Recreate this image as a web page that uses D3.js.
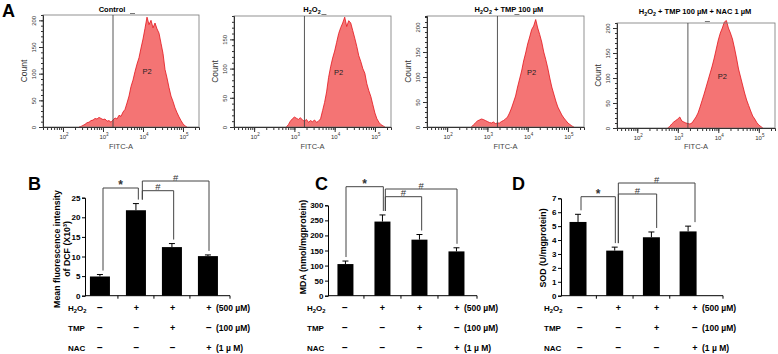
<!DOCTYPE html>
<html>
<head>
<meta charset="utf-8">
<title>ROS, MDA and SOD</title>
<script src="https://d3js.org/d3.v7.min.js"></script>
<style>
  body { margin: 0; background: #fff; }
  svg { font-family: Arial, "Liberation Sans", sans-serif; display: block; }
</style>
</head>
<body>
<svg id="fig" width="778" height="354"></svg>
<script>
// ---- data ----
var histTitles = ["Control", "H2O2", "H2O2 + TMP 100 µM", "H2O2 + TMP 100 µM + NAC 1 µM"];
var histStep = 0.05;                       // bin width in log10(FITC-A)
var histStart = [2.40, 2.80, 2.60, 2.75];  // log10 of first bin in each panel
var histControl = [0,1,3,5,8,9,12,13,16,15,18,16,14,15,11,12,9,13,17,15,22,20,28,33,45,58,76,88,104,118,130,148,165,185,206,192,200,186,195,184,176,157,138,108,92,74,58,48,36,27,19,12,6,2,0];
var histH2O2 = [0,4,10,14,17,15,13,16,12,10,13,8,11,9,12,8,10,14,28,42,60,85,103,118,130,145,160,170,178,188,172,182,178,165,152,138,122,112,100,92,74,62,52,38,24,14,8,4,2,0];
var histTMP = [0,4,8,12,14,16,15,13,11,9,8,10,7,8,8,11,13,16,20,28,38,50,62,80,96,112,132,148,166,180,195,202,215,198,185,170,150,135,118,98,80,66,52,40,32,24,18,13,8,5,2,0];
var histNAC = [0,3,8,12,15,18,22,14,12,10,9,8,10,16,22,30,42,55,68,82,96,110,124,140,158,176,190,200,212,215,200,190,178,160,140,118,102,86,70,56,45,34,24,18,11,6,3,0];
var histYMax = [210, 190, 222, 210];
var gateLog = 3.25;

var groups = ["g1", "g2", "g3", "g4"];
var dcfMean = [4.9, 21.8, 12.4, 10.1];
var dcfErr = [0.5, 1.7, 0.9, 0.3];
var mdaMean = [105, 246, 186, 147];
var mdaErr = [10, 22, 17, 12];
var sodMean = [5.3, 3.24, 4.2, 4.62];
var sodErr = [0.55, 0.25, 0.38, 0.38];

var rowLabels = ["H2O2", "TMP", "NAC"];
var rowH2O2 = ["−", "+", "+", "+"];
var rowTMP = ["−", "−", "+", "−"];
var rowNAC = ["−", "−", "−", "+"];
var rowDose = ["(500 µM)", "(100 µM)", "(1 µ M)"];

var svg = d3.select("#fig");

// writes text with chemical subscripts (digit right after a letter)
function chemText(t, str, sz) {
  var parts = [];
  for (var i = 0; i < str.length; i++) {
    var ch = str[i];
    var sub = /[0-9]/.test(ch) && i > 0 && /[A-Za-z]/.test(str[i - 1]);
    var last = parts[parts.length - 1];
    if (last && last.sub === sub) last.t += ch; else parts.push({t: ch, sub: sub});
  }
  var shift = 0;
  parts.forEach(function(p) {
    var s = p.sub ? sz * 0.3 : 0;
    t.append("tspan").attr("dy", s - shift)
      .style("font-size", p.sub ? (sz * 0.72) + "px" : null)
      .text(p.t);
    shift = s;
  });
}

function letter(x, y, s) {
  svg.append("text").attr("x", x).attr("y", y)
    .style("font-size", "18px").style("font-weight", "bold").text(s);
}

// ---- A: flow cytometry histograms ----
letter(2, 17, "A");

var histPanels = [
  {counts: histControl, x0: 43, x1: 199, y0: 15, y1: 127, titleX: 112, titleY: 12},
  {counts: histH2O2, x0: 234, x1: 391, y0: 16, y1: 127, titleX: 312, titleY: 12},
  {counts: histTMP, x0: 427, x1: 584, y0: 16, y1: 127, titleX: 509, titleY: 12},
  {counts: histNAC, x0: 617, x1: 775, y0: 23, y1: 128, titleX: 695, titleY: 14}
];

histPanels.forEach(function(p, k) {
  var x = d3.scaleLog().domain([Math.pow(10, 1.5), Math.pow(10, 5.4)]).range([p.x0, p.x1]);
  var y = d3.scaleLinear().domain([0, histYMax[k]]).range([p.y1, p.y0]);
  var g = svg.append("g");

  var pts = p.counts.map(function(c, i) { return [Math.pow(10, histStart[k] + i * histStep), c]; });

  g.append("path").datum(pts)
    .attr("d", d3.area().x(function(d) { return x(d[0]); }).y0(y(0)).y1(function(d) { return y(d[1]); }))
    .attr("fill", "#f47474");
  g.append("path").datum(pts)
    .attr("d", d3.line().x(function(d) { return x(d[0]); }).y(function(d) { return y(d[1]); }))
    .attr("fill", "none").attr("stroke", "#e3141c").attr("stroke-width", 0.8);

  g.append("rect").attr("x", p.x0).attr("y", p.y0)
    .attr("width", p.x1 - p.x0).attr("height", p.y1 - p.y0)
    .attr("fill", "none").attr("stroke", "#777").attr("stroke-width", 0.8);

  // gate
  var gx = x(Math.pow(10, gateLog));
  g.append("line").attr("x1", gx).attr("x2", gx).attr("y1", p.y0).attr("y2", p.y1)
    .attr("stroke", "#444").attr("stroke-width", 0.9);
  g.append("line").attr("x1", gx + 17).attr("x2", gx + 22).attr("y1", p.y0 - 1.5).attr("y2", p.y0 - 1.5)
    .attr("stroke", "#555").attr("stroke-width", 0.8);
  g.append("text").attr("x", x(Math.pow(10, 4.1))).attr("y", (p.y0 + p.y1) / 2 + 3)
    .attr("text-anchor", "middle").style("font-size", "7.5px").attr("fill", "#222").text("P2");

  // y axis
  var yMinor = d3.range(0, histYMax[k] + 1, 10);
  var yMajor = d3.range(0, histYMax[k] + 1, 50);
  g.append("g").attr("transform", "translate(" + p.x0 + ",0)")
    .call(d3.axisLeft(y).tickValues(yMinor).tickSize(2).tickFormat(""))
    .call(function(a) { a.select(".domain").attr("stroke", "#333"); a.selectAll("line").attr("stroke", "#333"); });
  var ya = g.append("g").attr("transform", "translate(" + p.x0 + ",0)")
    .call(d3.axisLeft(y).tickValues(yMajor).tickSize(4));
  ya.select(".domain").remove();
  ya.selectAll("line").attr("stroke", "#333");
  // clip labels that run above the plot box (reference shows "20" for 200 in Control)
  var clipId = "clip" + k;
  g.append("clipPath").attr("id", clipId).append("rect")
    .attr("x", p.x0 - 20).attr("y", p.y0 - 1).attr("width", 20).attr("height", p.y1 - p.y0 + 10);
  var labs = g.append("g").attr("clip-path", "url(#" + clipId + ")");
  ya.selectAll(".tick").each(function() {
    var tr = d3.select(this).attr("transform");
    var txt = d3.select(this).select("text");
    labs.append("text").attr("transform", "translate(" + p.x0 + ",0) " + tr + " translate(-7,0) rotate(-90)")
      .attr("text-anchor", "middle").style("font-size", "6px").attr("fill", "#333").text(txt.text());
    txt.remove();
  });

  g.append("text").attr("transform", "translate(" + (p.x0 - 16) + "," + ((p.y0 + p.y1) / 2) + ") rotate(-90)")
    .attr("text-anchor", "middle").style("font-size", "8.5px").attr("fill", "#333").text("Count");

  // x axis (log)
  var xa = g.append("g").attr("transform", "translate(0," + p.y1 + ")")
    .call(d3.axisBottom(x).tickValues(x.ticks()).tickSize(3).tickFormat(""));
  xa.select(".domain").attr("stroke", "#333");
  xa.selectAll("line").attr("stroke", "#333");
  var decades = [100, 1000, 10000, 100000];
  var xm = g.append("g").attr("transform", "translate(0," + p.y1 + ")")
    .call(d3.axisBottom(x).tickValues(decades).tickSize(5).tickFormat(""));
  xm.select(".domain").remove();
  xm.selectAll("line").attr("stroke", "#333");
  decades.forEach(function(v) {
    var t = g.append("text").attr("x", x(v) + 1).attr("y", p.y1 + 12)
      .attr("text-anchor", "middle").style("font-size", "6px").attr("fill", "#333");
    t.append("tspan").text("10");
    t.append("tspan").attr("dy", -3).style("font-size", "4.5px").text(Math.round(Math.log10(v)));
  });
  g.append("text").attr("x", (p.x0 + p.x1) / 2).attr("y", 149)
    .attr("text-anchor", "middle").style("font-size", "7.5px").attr("fill", "#444").text("FITC-A");

  var tt = g.append("text").attr("x", p.titleX).attr("y", p.titleY)
    .attr("text-anchor", "middle").style("font-size", "7.5px").style("font-weight", "bold");
  chemText(tt, histTitles[k], 7.5);
});

// ---- B, C, D: bar charts ----
var barPanels = [
  {L: "B", LX: 28, means: dcfMean, errs: dcfErr, yMax: 25, yStep: 5, yTop: 197.7,
   ax: 85, axEnd: 230, pi: 0.444, po: 0.236, align: 0.29, cols: [100, 209], labX: 68,
   title: ["Mean fluorescence intensity", "of DCF (X10³)"], titleX: [60, 69.5], titleY: 249,
   brackets: [{a: 0, b: 1, y: 188, s: "*", da: 3, db: 2}, {a: 1, b: 2, y: 190.7, s: "#", da: 6, db: 1}, {a: 1, b: 3, y: 181, s: "#", da: 6, db: 0}]},
  {L: "C", LX: 315, means: mdaMean, errs: mdaErr, yMax: 300, yStep: 50, yTop: 205.3,
   ax: 328, axEnd: 477, pi: 0.568, po: 0.297, align: 0.43, cols: [345, 457], labX: 307,
   title: ["MDA (nmol/mgprotein)"], titleX: [306], titleY: 247,
   brackets: [{a: 0, b: 1, y: 186.7, s: "*", da: 1, db: 1}, {a: 1, b: 2, y: 196.7, s: "#", da: 3, db: 2}, {a: 1, b: 3, y: 189, s: "#", da: 3, db: 0}]},
  {L: "D", LX: 512, means: sodMean, errs: sodErr, yMax: 7, yStep: 1, yTop: 198.3,
   ax: 561, axEnd: 723, pi: 0.537, po: 0.476, align: 0.244, cols: [580, 695], labX: 544,
   title: ["SOD (U/mgprotein)"], titleX: [546], titleY: 248,
   brackets: [{a: 0, b: 1, y: 196.7, s: "*", da: 1, db: -3}, {a: 1, b: 2, y: 194, s: "#", da: 0, db: 0}, {a: 1, b: 3, y: 183, s: "#", da: 0, db: 0}]}
];
var rows = [rowH2O2, rowTMP, rowNAC];
var rowY = [311, 331, 351];
var y0Bar = 295.7;

barPanels.forEach(function(p) {
  var g = svg.append("g");
  letter(p.LX, 190, p.L);

  var x = d3.scaleBand().domain(groups).range([p.ax, p.axEnd])
    .paddingInner(p.pi).paddingOuter(p.po).align(p.align);
  var y = d3.scaleLinear().domain([0, p.yMax]).range([y0Bar, p.yTop]);
  var col = d3.scalePoint().domain(groups).range(p.cols);

  g.selectAll(".bar").data(p.means).enter().append("rect")
    .attr("class", "bar")
    .attr("x", function(d, i) { return x(groups[i]); })
    .attr("width", x.bandwidth())
    .attr("y", function(d) { return y(d); })
    .attr("height", function(d) { return y0Bar - y(d); })
    .attr("fill", "#000");

  // error bars (upper only)
  p.means.forEach(function(m, i) {
    var cx = x(groups[i]) + x.bandwidth() / 2;
    g.append("line").attr("x1", cx).attr("x2", cx).attr("y1", y(m)).attr("y2", y(m + p.errs[i]))
      .attr("stroke", "#000").attr("stroke-width", 1);
    g.append("line").attr("x1", cx - 3).attr("x2", cx + 3).attr("y1", y(m + p.errs[i])).attr("y2", y(m + p.errs[i]))
      .attr("stroke", "#000").attr("stroke-width", 1);
  });

  // y axis
  var ya = g.append("g").attr("transform", "translate(" + p.ax + ",0)")
    .call(d3.axisLeft(y).tickValues(d3.range(0, p.yMax + 0.001, p.yStep))
      .tickFormat(d3.format("d")).tickSize(3).tickPadding(1.5));
  ya.selectAll("text").style("font-size", "8px").style("font-weight", "bold").attr("fill", "#000");
  ya.select(".domain").attr("stroke", "#000");

  // x axis line + small ticks between bars
  g.append("line").attr("x1", p.ax).attr("x2", p.axEnd).attr("y1", y0Bar).attr("y2", y0Bar)
    .attr("stroke", "#000").attr("stroke-width", 1);
  var tickXs = [];
  for (var i = 1; i < groups.length; i++) {
    tickXs.push((x(groups[i - 1]) + x.bandwidth() + x(groups[i])) / 2);
  }
  tickXs.push(p.axEnd);
  tickXs.forEach(function(tx) {
    g.append("line").attr("x1", tx).attr("x2", tx).attr("y1", y0Bar).attr("y2", y0Bar + 3)
      .attr("stroke", "#000");
  });

  // axis title
  p.title.forEach(function(s, j) {
    g.append("text").attr("transform", "translate(" + p.titleX[j] + "," + p.titleY + ") rotate(-90)")
      .attr("text-anchor", "middle").style("font-size", "8.8px").style("font-weight", "bold").text(s);
  });

  // significance brackets
  p.brackets.forEach(function(b) {
    var xa = col(groups[b.a]) + b.da, xb = col(groups[b.b]) + b.db;
    var ya1 = y(p.means[b.a] + p.errs[b.a]) - 4;
    var yb1 = y(p.means[b.b] + p.errs[b.b]) - 4;
    g.append("path")
      .attr("d", "M" + xa + "," + ya1 + "V" + b.y + "H" + xb + "V" + yb1)
      .attr("fill", "none").attr("stroke", "#444").attr("stroke-width", 1);
    g.append("text").attr("x", (xa + xb) / 2).attr("y", b.s === "*" ? b.y + 1 : b.y - 0.5)
      .attr("text-anchor", "middle").style("font-size", b.s === "*" ? "12px" : "9.5px")
      .style("font-weight", b.s === "*" ? "bold" : "normal").attr("fill", "#333").text(b.s);
  });

  // treatment table
  rows.forEach(function(r, ri) {
    var lt = g.append("text").attr("x", p.labX).attr("y", rowY[ri])
      .style("font-size", "8px").style("font-weight", "bold");
    chemText(lt, rowLabels[ri], 8);
    r.forEach(function(s, ci) {
      g.append("text").attr("x", col(groups[ci])).attr("y", rowY[ri])
        .attr("text-anchor", "middle").style("font-size", s === "+" ? "9px" : "10px")
        .style("font-weight", "bold").text(s);
    });
    g.append("text").attr("x", col(groups[3]) + 7).attr("y", rowY[ri])
      .style("font-size", "8.5px").style("font-weight", "bold").text(rowDose[ri]);
  });
});
</script>
</body>
</html>
